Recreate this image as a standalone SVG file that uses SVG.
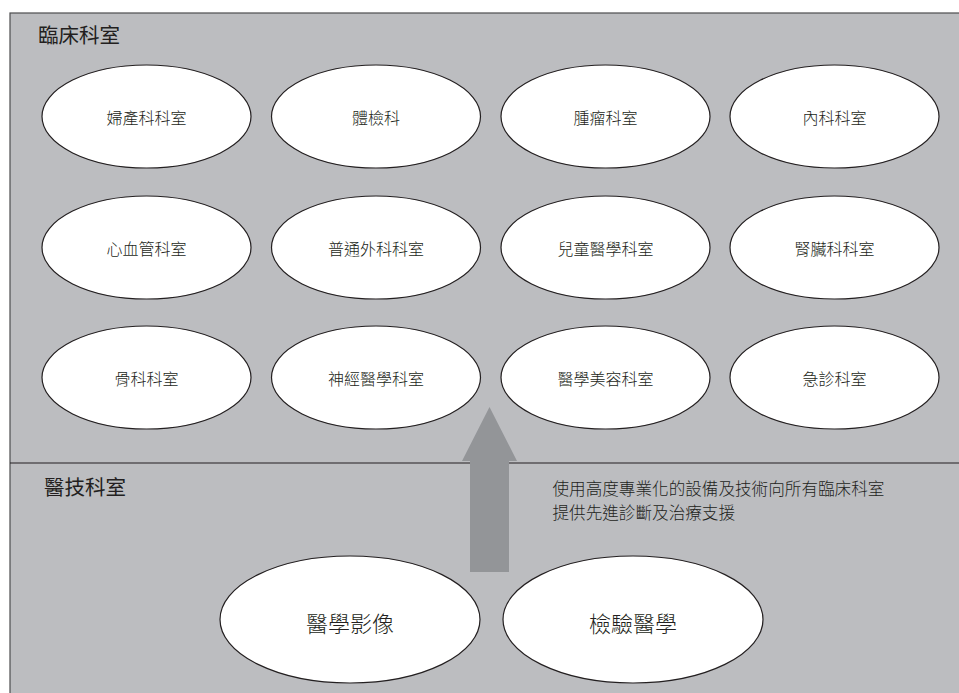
<svg xmlns="http://www.w3.org/2000/svg" width="959" height="693" viewBox="0 0 959 693">
<style>
.bg{fill:#bcbdc0;stroke:#4d4d4f;stroke-width:1.2}
.node ellipse{fill:#ffffff;stroke:#231f20;stroke-width:1.2}
.lbl{font-family:"Noto Sans CJK TC","Noto Sans CJK SC",sans-serif;font-size:16px;font-weight:300;fill:#231f20;text-anchor:middle;dominant-baseline:central}
.big{font-family:"Noto Sans CJK TC","Noto Sans CJK SC",sans-serif;font-size:22px;font-weight:300;fill:#231f20;text-anchor:middle;dominant-baseline:central}
.title{font-family:"Noto Sans CJK TC","Noto Sans CJK SC",sans-serif;font-size:20.5px;fill:#231f20;dominant-baseline:central}
.desc{font-family:"Noto Sans CJK TC","Noto Sans CJK SC",sans-serif;font-size:16.6px;font-weight:300;fill:#231f20;dominant-baseline:central}
</style>
<rect width="959" height="693" fill="#ffffff"/>
<g id="panel">
<rect class="bg" x="10" y="13" width="960" height="690"/>
<line x1="10" y1="463" x2="959" y2="463" stroke="#231f20" stroke-width="1.2"/>
<text class="title" x="38" y="34">臨床科室</text>
<text class="title" x="44" y="486">醫技科室</text>
</g>
<g id="n1" class="node"><ellipse cx="146.5" cy="116.5" rx="104.5" ry="51.5"/><text class="lbl" x="146.5" y="116.5">婦產科科室</text></g>
<g id="n2" class="node"><ellipse cx="376" cy="116.5" rx="104.5" ry="51.5"/><text class="lbl" x="376" y="116.5">體檢科</text></g>
<g id="n3" class="node"><ellipse cx="605.5" cy="116.5" rx="104.5" ry="51.5"/><text class="lbl" x="605.5" y="116.5">腫瘤科室</text></g>
<g id="n4" class="node"><ellipse cx="834.5" cy="116.5" rx="104.5" ry="51.5"/><text class="lbl" x="834.5" y="116.5">內科科室</text></g>
<g id="n5" class="node"><ellipse cx="146.5" cy="247.5" rx="104.5" ry="51.5"/><text class="lbl" x="146.5" y="247.5">心血管科室</text></g>
<g id="n6" class="node"><ellipse cx="376" cy="247.5" rx="104.5" ry="51.5"/><text class="lbl" x="376" y="247.5">普通外科科室</text></g>
<g id="n7" class="node"><ellipse cx="605.5" cy="247.5" rx="104.5" ry="51.5"/><text class="lbl" x="605.5" y="247.5">兒童醫學科室</text></g>
<g id="n8" class="node"><ellipse cx="834.5" cy="247.5" rx="104.5" ry="51.5"/><text class="lbl" x="834.5" y="247.5">腎臟科科室</text></g>
<g id="n9" class="node"><ellipse cx="146.5" cy="377.5" rx="104.5" ry="51.5"/><text class="lbl" x="146.5" y="377.5">骨科科室</text></g>
<g id="n10" class="node"><ellipse cx="376" cy="377.5" rx="104.5" ry="51.5"/><text class="lbl" x="376" y="377.5">神經醫學科室</text></g>
<g id="n11" class="node"><ellipse cx="605.5" cy="377.5" rx="104.5" ry="51.5"/><text class="lbl" x="605.5" y="377.5">醫學美容科室</text></g>
<g id="n12" class="node"><ellipse cx="834.5" cy="377.5" rx="104.5" ry="51.5"/><text class="lbl" x="834.5" y="377.5">急診科室</text></g>
<g id="n13" class="node"><ellipse cx="350" cy="619.5" rx="130" ry="63.5"/><text class="big" x="350" y="622">醫學影像</text></g>
<g id="n14" class="node"><ellipse cx="633" cy="619.5" rx="130" ry="63.5"/><text class="big" x="633" y="622">檢驗醫學</text></g>
<g id="connectors">
<polygon points="489.5,407 517,461 509,461 509,572 470,572 470,461 462,461" fill="#939598"/>
</g>
<g id="note">
<text class="desc" x="552.5" y="487.5">使用高度專業化的設備及技術向所有臨床科室</text>
<text class="desc" x="552.5" y="512">提供先進診斷及治療支援</text>
</g>
</svg>
